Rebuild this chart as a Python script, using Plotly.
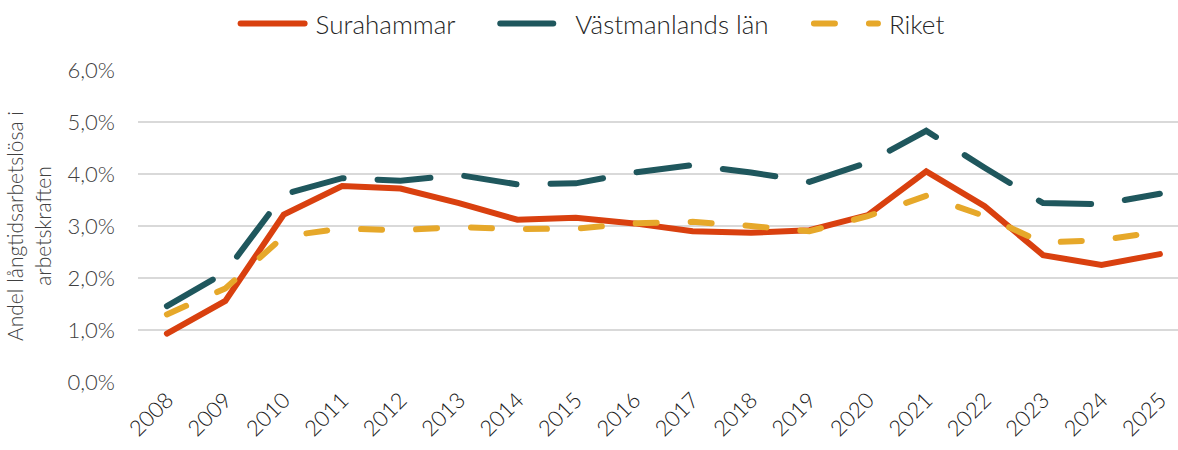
import plotly.graph_objects as go

years = [str(y) for y in range(2008, 2026)]
surahammar = [0.93, 1.56, 3.22, 3.77, 3.72, 3.44, 3.12, 3.16, 3.05, 2.90,
              2.87, 2.92, 3.21, 4.05, 3.38, 2.44, 2.25, 2.46]
vastmanland = [1.46, 2.11, 3.61, 3.92, 3.87, 3.98, 3.80, 3.82, 4.03, 4.17,
               4.03, 3.85, 4.22, 4.83, 4.12, 3.44, 3.42, 3.62]
riket = [1.30, 1.80, 2.80, 2.95, 2.92, 2.98, 2.94, 2.95, 3.05, 3.08,
         3.00, 2.90, 3.19, 3.58, 3.19, 2.68, 2.73, 2.89]
ytick_vals = [0, 1, 2, 3, 4, 5, 6]
ytick_text = ["0,0%", "1,0%", "2,0%", "3,0%", "4,0%", "5,0%", "6,0%"]

FONT = "Lato"
PAD = "\u00a0" * 5  # extra room between legend entries

fig = go.Figure()
fig.add_trace(go.Scatter(x=years, y=surahammar, name="Surahammar" + PAD, mode="lines",
                         line=dict(color="#D9400F", width=6)))
fig.add_trace(go.Scatter(x=years, y=vastmanland, name="Västmanlands län" + PAD, mode="lines",
                         line=dict(color="#1F575D", width=6, dash="53px,34px")))
fig.add_trace(go.Scatter(x=years, y=riket, name="Riket", mode="lines",
                         line=dict(color="#E6A82A", width=6, dash="21px,34px")))

fig.update_layout(
    width=1178, height=450,
    margin=dict(l=138, r=0, t=70, b=68),
    paper_bgcolor="white", plot_bgcolor="white",
    font=dict(family=FONT, color="#404040", size=22, weight=300),
    showlegend=True,
    legend=dict(orientation="h", x=0.2, xanchor="left", xref="container",
                y=1.0, yref="container", yanchor="top",
                font=dict(size=26, color="#262626", weight=300), itemwidth=70,
                traceorder="normal"),
    xaxis=dict(type="category", range=[-0.495, 17.31], tickangle=-45,
               showgrid=False, showline=False, zeroline=False, ticks="",
               automargin=False,
               tickfont=dict(size=22, color="#1a1a1a", weight=300)),
    yaxis=dict(range=[0, 6], tickvals=ytick_vals, ticktext=ytick_text,
               showgrid=True, gridcolor="#D9D9D9", gridwidth=1.5,
               zeroline=False, showline=False, ticks="", ticklabelstandoff=22,
               automargin=False,
               tickfont=dict(size=22, color="#404040", weight=300),
               title=dict(text="Andel långtidsarbetslösa i<br>arbetskraften",
                          font=dict(size=21, color="#404040", weight=300), standoff=10)),
)

# no page margin, round line caps and longer legend samples like the original
js = """
document.body.style.margin = '0';
document.querySelectorAll('.scatterlayer path.js-line, .legendlines path').forEach(function(p){
  p.style.strokeLinecap = 'round';
});
document.querySelectorAll('.legendlines path').forEach(function(p){
  p.setAttribute('d', 'M5,0h64');
});
"""
fig.write_html("out.html", post_script=js, config={"displayModeBar": False})
